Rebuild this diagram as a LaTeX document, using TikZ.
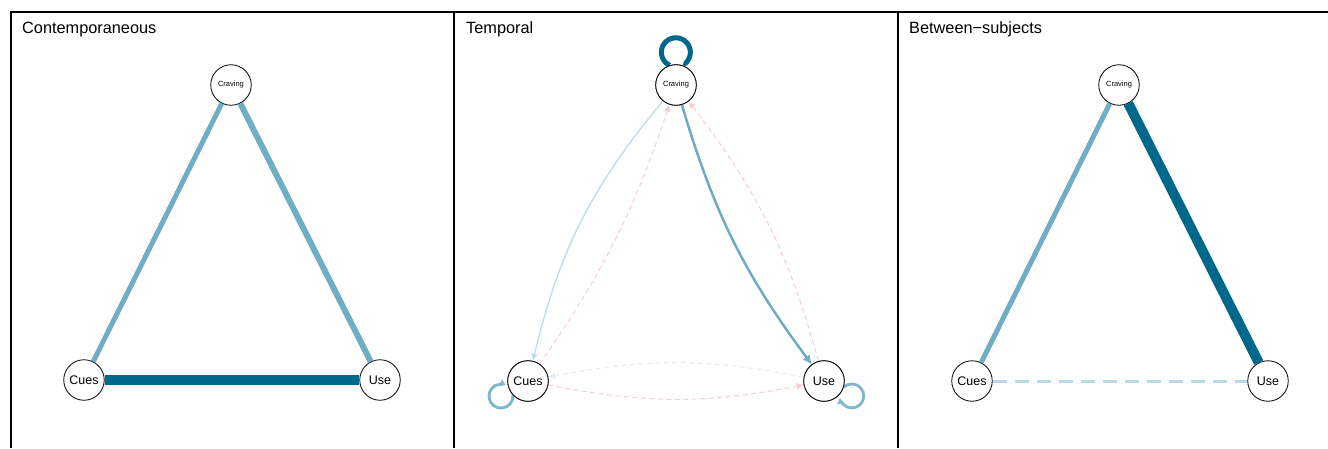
\documentclass[tikz,border=0pt]{standalone}
\usepackage{fontspec}
\setmainfont{Liberation Sans}
\usetikzlibrary{arrows.meta}
\definecolor{cdark}{RGB}{0,104,139}
\definecolor{clight}{RGB}{112,174,196}
\definecolor{cblue}{RGB}{190,220,231}
\definecolor{cmid}{RGB}{111,171,194}
\definecolor{cloop}{RGB}{127,182,202}
\definecolor{cpink}{RGB}{246,205,207}
\definecolor{cfaint}{RGB}{222,238,244}
\definecolor{cdash}{RGB}{187,217,228}
\begin{document}
\begin{tikzpicture}[x=1pt,y=1pt,
  nd/.style={circle,draw=black,fill=white,line width=0.8pt,minimum size=40.5pt,inner sep=0pt,font=\fontsize{12.5}{12.5}\selectfont},
  crv/.style={nd,font=\fontsize{7.5}{8}\selectfont},
  ttl/.style={anchor=base west,font=\fontsize{16.3}{18}\selectfont,inner sep=0pt},
  frm/.style={line width=1.5pt,black},
  arr/.style={-{Latex[length=#1,width=#1]}},
  arr/.default=8pt,
  pdash/.style={line width=1pt,dash pattern=on 5pt off 3.5pt}]
\useasboundingbox (0,0) rectangle (1328,448);
% frames
\draw[frm] (11,0) -- (11,436) -- (1328,436);
\draw[frm] (454,0) -- (454,436);
\draw[frm] (898,0) -- (898,436);
% titles
\node[ttl] (t1) at (22,414) {Contemporaneous};
\node[ttl] (t2) at (466,414) {Temporal};
\node[ttl] (t3) at (909,414) {Between−subjects};
% nodes
\node[crv] (cr1) at (231,363) {Craving};
\node[nd] (cu1) at (84,68) {Cues};
\node[nd] (us1) at (380,68) {Use};
\node[crv] (cr2) at (676,363) {Craving};
\node[nd] (cu2) at (528,67) {Cues};
\node[nd] (us2) at (824,67) {Use};
\node[crv] (cr3) at (1119,363) {Craving};
\node[nd] (cu3) at (972,67) {Cues};
\node[nd] (us3) at (1268,67) {Use};
% panel 1
\draw[clight,line width=5pt] (cu1) -- (cr1);
\draw[clight,line width=6pt] (cr1) -- (us1);
\draw[cdark,line width=10pt] (cu1) -- (us1);
% panel 3
\draw[clight,line width=5pt] (cu3) -- (cr3);
\draw[cdark,line width=10pt] (cr3) -- (us3);
\draw[cdash,line width=3pt,dash pattern=on 14pt off 8pt] (cu3) -- (us3);
% panel 2
\draw[cpink,pdash,arr=7pt] (cu2) to[bend right=8] (cr2);
\draw[cpink,pdash,arr=7pt] (us2) to[bend right=11] (cr2);
\draw[cpink,pdash,arr=7pt] (cu2) to[bend right=11] (us2);
\draw[cfaint,pdash,arr=7pt] (us2) to[bend right=11] (cu2);
\draw[cblue,line width=1.3pt,arr=7pt] (cr2) to[bend right=13] (cu2);
\draw[cmid,line width=2.5pt,arr=9pt] (cr2) to[bend right=10] (us2);
\draw[cdark,line width=5pt,-{Latex[length=4pt,width=6pt]}] (cr2.108) arc[start angle=244.5,end angle=-64.5,radius=14.5];
\draw[cloop,line width=2.8pt,-{Latex[length=6pt,width=8pt]}] (cu2.223) arc[start angle=5,end angle=-295,radius=12];
\draw[cloop,line width=2.8pt,-{Latex[length=6pt,width=8pt]}] (us2.-17) arc[start angle=132,end angle=-172,radius=12];
% redraw nodes on top
\node[crv] at (cr2) {Craving};
\node[nd] at (cu2) {Cues};
\node[nd] at (us2) {Use};
\end{tikzpicture}
\end{document}
